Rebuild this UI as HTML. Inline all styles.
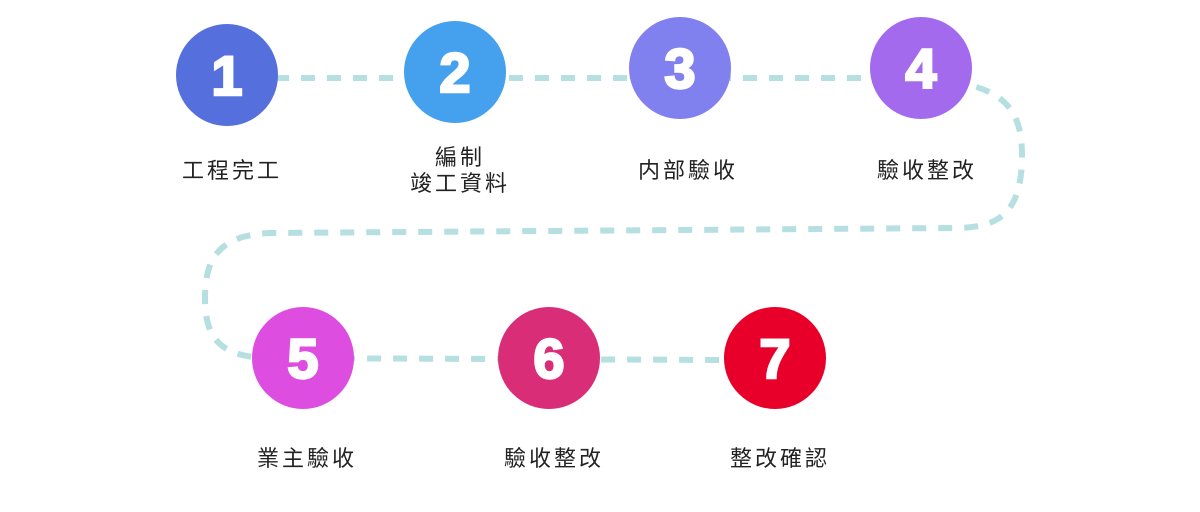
<!DOCTYPE html>
<html><head><meta charset="utf-8"><style>
html,body{margin:0;padding:0;background:#fff;}
svg text{font-family:"Liberation Sans","Noto Sans CJK TC",sans-serif;}
</style></head><body>
<svg width="1200" height="507" viewBox="0 0 1200 507" xmlns="http://www.w3.org/2000/svg">
<path d="M 275 78 L 905 78 C 995 80 1022 100 1022 155 C 1022 212 1000 228 955 228 L 270 233 C 218 235 205 260 205 298 C 205 340 222 356 265 358 L 730 360" fill="none" stroke="#b5dfe0" stroke-width="6" stroke-dasharray="14 12"/>
<g font-weight="bold" font-size="56" fill="#fff" stroke="#fff" stroke-width="2.5" text-anchor="middle">
<circle cx="227" cy="75" r="51" fill="#5570dd" stroke="none"/><text x="227" y="95">1</text>
<circle cx="455" cy="72" r="51" fill="#45a0ee" stroke="none"/><text x="455" y="92">2</text>
<circle cx="680" cy="68" r="51" fill="#8080ef" stroke="none"/><text x="680" y="88">3</text>
<circle cx="921" cy="68" r="51" fill="#a36aed" stroke="none"/><text x="921" y="88">4</text>
<circle cx="303" cy="358" r="51" fill="#dd4de0" stroke="none"/><text x="303" y="378">5</text>
<circle cx="549" cy="358" r="51" fill="#d92d78" stroke="none"/><text x="549" y="378">6</text>
<circle cx="775" cy="358" r="51" fill="#e8002b" stroke="none"/><text x="775" y="378">7</text>
</g>
<g font-size="22" fill="#222" text-anchor="middle" letter-spacing="3">
<text x="232" y="178">工程完工</text>
<text x="460" y="165">編制</text>
<text x="460" y="191">竣工資料</text>
<text x="688" y="178">内部驗收</text>
<text x="927" y="178">驗收整改</text>
<text x="307" y="466">業主驗收</text>
<text x="554" y="466">驗收整改</text>
<text x="780" y="466">整改確認</text>
</g>
</svg>
</body></html>
